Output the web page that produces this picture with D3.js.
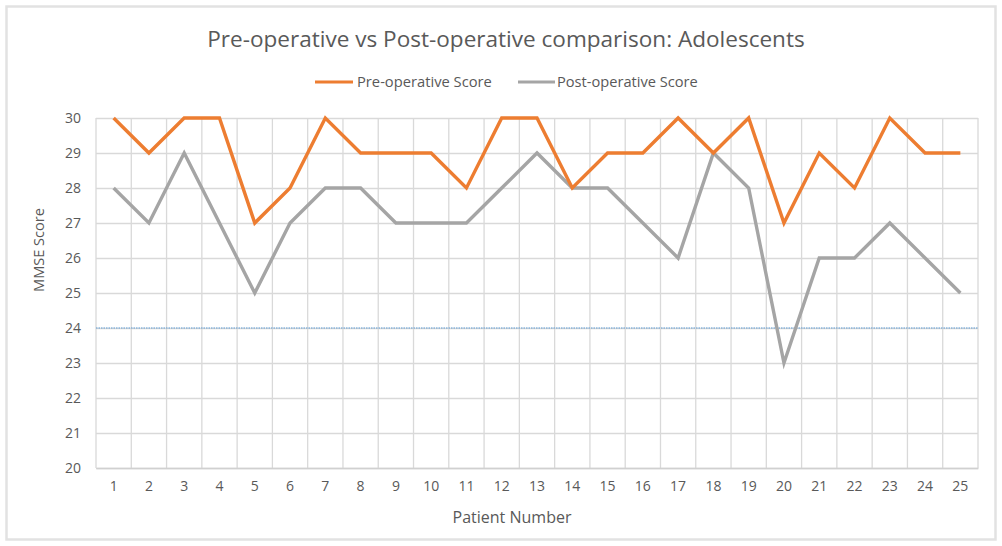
<!DOCTYPE html>
<html>
<head>
<meta charset="utf-8">
<script src="https://cdn.jsdelivr.net/npm/d3@7/dist/d3.min.js"></script>
<style>
  html, body { margin: 0; padding: 0; background: #ffffff; }
  svg { display: block; }
  text { font-family: "Open Sans", "Noto Sans", sans-serif; fill: #595959; }
</style>
</head>
<body>
<svg id="chart" width="1002" height="546"></svg>
<script>
// Patient numbers and MMSE scores before and after surgery
const patients = d3.range(1, 26).map(String);
const preOpScores  = [30, 29, 30, 30, 27, 28, 30, 29, 29, 29, 28, 30, 30, 28, 29, 29, 30, 29, 30, 27, 29, 28, 30, 29, 29];
const postOpScores = [28, 27, 29, 27, 25, 27, 28, 28, 27, 27, 27, 28, 29, 28, 28, 27, 26, 29, 28, 23, 26, 26, 27, 26, 25];
const yTicks = [20, 21, 22, 23, 24, 25, 26, 27, 28, 29, 30];
const cutoffScore = 24;

const seriesList = [
  { name: "Pre-operative Score",  values: preOpScores,  color: "#ED7D31" },
  { name: "Post-operative Score", values: postOpScores, color: "#A5A5A5" }
];

const svg = d3.select("#chart");
const W = 1002, H = 546;
const plot = { left: 96, right: 978, top: 118, bottom: 468 };

// outer chart frame
svg.append("rect")
  .attr("x", 6.5).attr("y", 6.5)
  .attr("width", W - 13).attr("height", H - 13)
  .attr("fill", "#ffffff")
  .attr("stroke", "#e2e2e2").attr("stroke-width", 2.5);

const x = d3.scaleBand().domain(patients).range([plot.left, plot.right]).paddingInner(0).paddingOuter(0);
const y = d3.scaleLinear().domain([20, 30]).range([plot.bottom, plot.top]);
const cx = d => x(d) + x.bandwidth() / 2;

// horizontal gridlines + y tick labels
const yAxis = svg.append("g")
  .attr("transform", `translate(${plot.left},0)`)
  .call(d3.axisLeft(y).tickValues(yTicks).tickSize(-(plot.right - plot.left)).tickPadding(15).tickFormat(d3.format("d")));
yAxis.select(".domain").remove();
yAxis.selectAll(".tick line").attr("stroke", "#d9d9d9").attr("stroke-width", 1.3);
yAxis.selectAll(".tick text").attr("font-size", 14).attr("fill", "#595959")
  .style("font-family", "'Open Sans', sans-serif");

// vertical gridlines at category boundaries
const bounds = patients.map(p => x(p)).concat([plot.right]);
svg.append("g").selectAll("line").data(bounds).join("line")
  .attr("x1", d => d).attr("x2", d => d)
  .attr("y1", plot.top).attr("y2", plot.bottom)
  .attr("stroke", "#d9d9d9").attr("stroke-width", 1.3);

// x axis
const xAxis = svg.append("g")
  .attr("transform", `translate(0,${plot.bottom})`)
  .call(d3.axisBottom(x).tickSize(0).tickPadding(13));
xAxis.select(".domain").attr("stroke", "#d0d0d0").attr("stroke-width", 1.3);
xAxis.selectAll(".tick text").attr("font-size", 14).attr("fill", "#595959")
  .style("font-family", "'Open Sans', sans-serif");

// cutoff reference line
svg.append("line")
  .attr("x1", plot.left).attr("x2", plot.right)
  .attr("y1", y(cutoffScore)).attr("y2", y(cutoffScore))
  .attr("stroke", "#5B9BD5").attr("stroke-width", 1.2)
  .attr("stroke-dasharray", "1.5,1");

// score lines
const line = d3.line().x((v, i) => cx(patients[i])).y(v => y(v));
svg.append("g").selectAll("path").data(seriesList.slice().reverse()).join("path")
  .attr("d", s => line(s.values))
  .attr("fill", "none")
  .attr("stroke", s => s.color)
  .attr("stroke-width", 3.4)
  .attr("stroke-linejoin", "miter");

// fit a text element to a given width by scaling its font size
function fitWidth(sel, target) {
  const w = sel.node().getComputedTextLength();
  const fs = parseFloat(sel.attr("font-size"));
  sel.attr("font-size", fs * target / w);
}

// title
const title = svg.append("text")
  .attr("x", 506).attr("y", 47)
  .attr("text-anchor", "middle")
  .attr("font-size", 20)
  .text("Pre-operative vs Post-operative comparison: Adolescents");
fitWidth(title, 598);

// legend
const legendItems = [
  { s: seriesList[0], x0: 315, x1: 353, tx: 357, tw: 135 },
  { s: seriesList[1], x0: 518, x1: 555, tx: 557, tw: 141 }
];
const lg = svg.append("g");
legendItems.forEach(it => {
  lg.append("line")
    .attr("x1", it.x0).attr("x2", it.x1)
    .attr("y1", 82).attr("y2", 82)
    .attr("stroke", it.s.color).attr("stroke-width", 3.2);
  const t = lg.append("text")
    .attr("x", it.tx).attr("y", 87)
    .attr("font-size", 13)
    .text(it.s.name);
  fitWidth(t, it.tw);
});

// axis titles
const yTitle = svg.append("text")
  .attr("transform", `translate(44,250) rotate(-90)`)
  .attr("text-anchor", "middle")
  .attr("font-size", 14)
  .text("MMSE Score");
fitWidth(yTitle, 84);

const xTitle = svg.append("text")
  .attr("x", 512).attr("y", 523)
  .attr("text-anchor", "middle")
  .attr("font-size", 14)
  .text("Patient Number");
fitWidth(xTitle, 119);
</script>
</body>
</html>
